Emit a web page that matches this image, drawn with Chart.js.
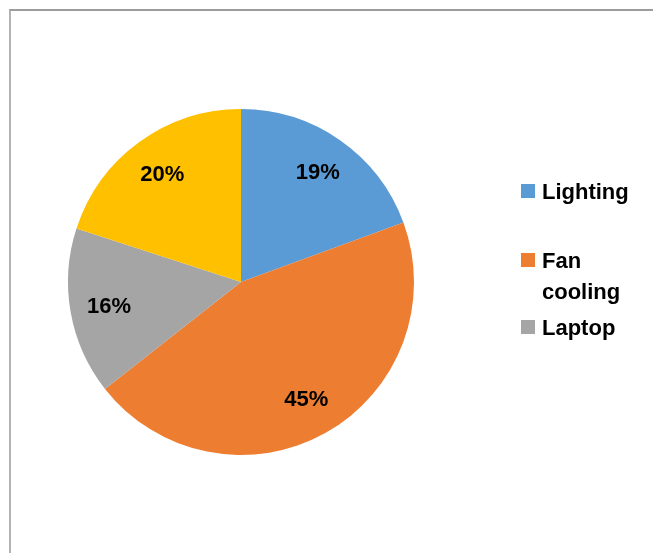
<!DOCTYPE html>
<html>
<head>
<meta charset="utf-8">
<script src="https://cdn.jsdelivr.net/npm/chart.js@4/dist/chart.umd.min.js"></script>
<style>
  html, body { margin: 0; padding: 0; background: #fff; }
  #wrap { position: relative; width: 653px; height: 553px; overflow: hidden; }
  #frame { position: absolute; left: 9px; top: 9px; width: 700px; height: 600px;
           border-top: 2px solid #9c9c9c; border-left: 2px solid #b4b4b4; box-sizing: border-box; }
  canvas { position: absolute; left: 0; top: 0; }
</style>
</head>
<body>
<div id="wrap">
  <div id="frame"></div>
  <canvas id="c" width="653" height="553"></canvas>
</div>
<script>
// Data
const categories = ['Lighting', 'Fan cooling', 'Laptop', ''];
const values = [19.4, 45.0, 15.6, 20.0];
const colors = ['#5B9BD5', '#ED7D31', '#A5A5A5', '#FFC000'];
const legendLines = [['Lighting'], ['Fan', 'cooling'], ['Laptop']];

const FONT = 'bold 22px "Liberation Sans", Arial, sans-serif';

const sliceLabels = {
  id: 'sliceLabels',
  afterDatasetsDraw(chart) {
    const ctx = chart.ctx;
    const meta = chart.getDatasetMeta(0);
    const data = chart.data.datasets[0].data;
    const total = data.reduce((a, b) => a + b, 0);
    ctx.save();
    ctx.font = FONT;
    ctx.fillStyle = '#000';
    ctx.textAlign = 'center';
    ctx.textBaseline = 'middle';
    meta.data.forEach((arc, i) => {
      const p = arc.getProps(['x', 'y', 'startAngle', 'endAngle', 'outerRadius'], true);
      const a = (p.startAngle + p.endAngle) / 2;
      const r = p.outerRadius * 0.775;
      const txt = Math.round(data[i] / total * 100) + '%';
      ctx.fillText(txt, p.x + Math.cos(a) * r, p.y + Math.sin(a) * r + 1);
    });
    ctx.restore();
  }
};

const customLegend = {
  id: 'customLegend',
  afterDraw(chart) {
    const ctx = chart.ctx;
    const baselines = [199, 268, 335];
    const lineH = 31;
    ctx.save();
    ctx.font = FONT;
    ctx.textBaseline = 'alphabetic';
    legendLines.forEach((lines, i) => {
      const y = baselines[i];
      ctx.fillStyle = colors[i];
      ctx.fillRect(521, y - 15, 14, 14);
      ctx.fillStyle = '#000';
      lines.forEach((t, j) => ctx.fillText(t, 542, y + j * lineH));
    });
    ctx.restore();
  }
};

new Chart(document.getElementById('c'), {
  type: 'pie',
  data: {
    labels: categories,
    datasets: [{
      data: values,
      backgroundColor: colors,
      borderWidth: 0
    }]
  },
  options: {
    responsive: false,
    animation: false,
    devicePixelRatio: 1,
    layout: { padding: { left: 68, right: 239, top: 109, bottom: 98 } },
    plugins: {
      legend: { display: false },
      tooltip: { enabled: false }
    }
  },
  plugins: [sliceLabels, customLegend]
});
</script>
</body>
</html>
